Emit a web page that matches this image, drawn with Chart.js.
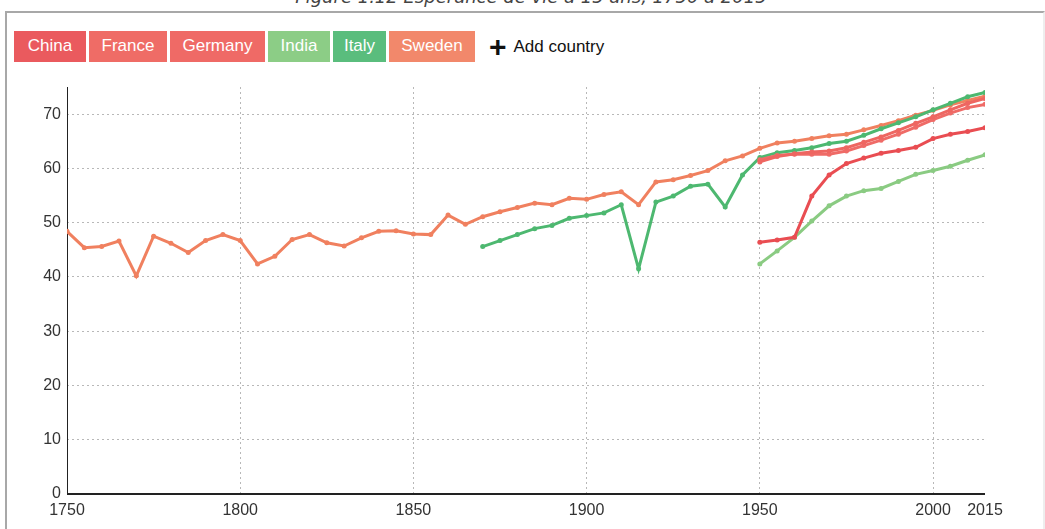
<!DOCTYPE html>
<html>
<head>
<meta charset="utf-8">
<script src="https://cdn.jsdelivr.net/npm/chart.js@4.4.0/dist/chart.umd.min.js"></script>
<style>
  body { margin: 0; background: #fff; font-family: "Liberation Sans", Arial, sans-serif; }
  #wrap { position: relative; width: 1045px; height: 529px; overflow: hidden; }
  #title { position: absolute; top: -12px; left: 0; width: 1062px; text-align: center; font: italic 18px "DejaVu Sans", sans-serif; color: #444; line-height: 18px; }
  #frame { position: absolute; left: 5px; top: 11px; width: 1036px; height: 600px; border: 2px solid #a8a8a8; border-right-color: #eee; }
  #buttons { position: absolute; left: 14px; top: 31px; display: flex; align-items: center; }
  .btn { color: #fff; font-size: 17px; height: 31px; line-height: 30px; text-align: center; margin-right: 3px; box-sizing: border-box; }
  .add { margin-left: 11px; font-size: 17px; color: #111; display: flex; align-items: center; }
  .plus { font-weight: bold; font-size: 30px; margin-right: 7px; line-height: 16px; }
  canvas { position: absolute; left: 0; top: 0; }
</style>
</head>
<body>
<div id="wrap">
  <div id="title">Figure 1.12 Espérance de vie à 15 ans, 1750 à 2015</div>
  <div id="frame"></div>
  <div id="buttons"></div>
  <canvas id="chart" width="1045" height="529"></canvas>
</div>
<script>
// Espérance de vie à 15 ans (âge total atteint)
const countries = ['China', 'France', 'Germany', 'India', 'Italy', 'Sweden'];
const btnColors = ['#ea5a5e', '#ef6c66', '#ef6a66', '#8ccd86', '#5abd7d', '#f2886b'];
const btnWidths = [72, 78, 95, 62, 53, 86];
const lineColors = ['#e94d52', '#ee6661', '#ef6b67', '#8acb82', '#4db870', '#f0805f'];

const yearsSweden = [1750, 1755, 1760, 1765, 1770, 1775, 1780, 1785, 1790, 1795,
  1800, 1805, 1810, 1815, 1820, 1825, 1830, 1835, 1840, 1845,
  1850, 1855, 1860, 1865, 1870, 1875, 1880, 1885, 1890, 1895,
  1900, 1905, 1910, 1915, 1920, 1925, 1930, 1935, 1940, 1945,
  1950, 1955, 1960, 1965, 1970, 1975, 1980, 1985, 1990, 1995,
  2000, 2005, 2010, 2015];
const yearsItaly = [1870, 1875, 1880, 1885, 1890, 1895, 1900, 1905, 1910, 1915,
  1920, 1925, 1930, 1935, 1940, 1945, 1950, 1955, 1960, 1965,
  1970, 1975, 1980, 1985, 1990, 1995, 2000, 2005, 2010, 2015];
const yearsModern = [1950, 1955, 1960, 1965, 1970, 1975, 1980, 1985, 1990, 1995,
  2000, 2005, 2010, 2015];

const sweden = [48.4, 45.4, 45.6, 46.6, 40.2, 47.5, 46.2, 44.5, 46.7, 47.8,
  46.7, 42.4, 43.8, 46.9, 47.8, 46.3, 45.7, 47.2, 48.4, 48.5,
  47.9, 47.8, 51.4, 49.7, 51.1, 52.0, 52.8, 53.6, 53.3, 54.5,
  54.3, 55.2, 55.7, 53.3, 57.5, 57.9, 58.7, 59.6, 61.4, 62.3,
  63.7, 64.7, 65.0, 65.5, 66.0, 66.3, 67.1, 67.9, 68.8, 69.8,
  70.7, 71.7, 72.5, 73.3];
const italy = [45.6, 46.7, 47.8, 48.9, 49.5, 50.8, 51.3, 51.8, 53.3, 41.5,
  53.8, 54.9, 56.7, 57.1, 52.9, 58.8, 62.0, 62.9, 63.3, 63.8,
  64.6, 65.0, 66.1, 67.3, 68.4, 69.5, 70.8, 72.0, 73.2, 74.0];
const china = [46.4, 46.8, 47.3, 54.9, 58.8, 60.9, 61.9, 62.8, 63.3, 63.9,
  65.5, 66.3, 66.8, 67.5];
const france = [61.2, 62.2, 62.7, 63.0, 63.2, 63.8, 64.8, 65.8, 67.0, 68.3,
  69.5, 70.8, 72.0, 72.9];
const germany = [61.6, 62.4, 62.6, 62.6, 62.6, 63.2, 64.2, 65.2, 66.3, 67.6,
  69.0, 70.2, 71.2, 71.8];
const india = [42.4, 44.8, 47.3, 50.3, 53.1, 54.9, 55.9, 56.3, 57.6, 58.9,
  59.6, 60.4, 61.5, 62.5];

const xTicks = [1750, 1800, 1850, 1900, 1950, 2000, 2015];
const yTicks = [0, 10, 20, 30, 40, 50, 60, 70];

// buttons
const bar = document.getElementById('buttons');
countries.forEach((c, i) => {
  const b = document.createElement('div');
  b.className = 'btn';
  b.style.background = btnColors[i];
  b.style.width = btnWidths[i] + 'px';
  b.textContent = c;
  bar.appendChild(b);
});
const add = document.createElement('div');
add.className = 'add';
add.innerHTML = '<span class="plus">+</span>Add country';
bar.appendChild(add);

function pts(years, vals) {
  return years.map((y, i) => ({ x: y, y: vals[i] }));
}
const series = [
  pts(yearsModern, china),
  pts(yearsModern, france),
  pts(yearsModern, germany),
  pts(yearsModern, india),
  pts(yearsItaly, italy),
  pts(yearsSweden, sweden)
];

// solid axis lines on top of the dotted grid
const axisLines = {
  id: 'axisLines',
  beforeDatasetsDraw(chart) {
    const { ctx, chartArea: a } = chart;
    ctx.save();
    ctx.strokeStyle = '#222';
    ctx.lineWidth = 1;
    ctx.beginPath();
    ctx.moveTo(a.left + 0.5, a.top);
    ctx.lineTo(a.left + 0.5, a.bottom);
    ctx.stroke();
    ctx.lineWidth = 2;
    ctx.beginPath();
    ctx.moveTo(a.left, a.bottom);
    ctx.lineTo(a.right, a.bottom);
    ctx.stroke();
    ctx.restore();
  }
};

const ctx = document.getElementById('chart').getContext('2d');
new Chart(ctx, {
  type: 'line',
  data: {
    datasets: countries.map((c, i) => ({
      label: c,
      data: series[i],
      borderColor: lineColors[i],
      backgroundColor: lineColors[i],
      borderWidth: 3,
      pointRadius: 2.5,
      pointBorderWidth: 0,
      tension: 0,
      fill: false
    }))
  },
  options: {
    responsive: false,
    animation: false,
    layout: { padding: { top: 87, right: 60, bottom: 0, left: 0 } },
    plugins: { legend: { display: false }, tooltip: { enabled: false } },
    scales: {
      x: {
        type: 'linear',
        min: 1750,
        max: 2015,
        afterBuildTicks: (s) => { s.ticks = xTicks.map(v => ({ value: v })); },
        afterFit: (s) => { s.height = 35; },
        border: { display: false, dash: [2, 3] },
        grid: {
          drawTicks: false,
          color: (c) => (c.tick && (c.tick.value === 1750 || c.tick.value === 2015)) ? 'rgba(0,0,0,0)' : '#b8b8b8'
        },
        ticks: {
          padding: 7, color: '#333', font: { family: 'Liberation Sans', size: 16 },
          maxRotation: 0, autoSkip: false,
          callback: (v) => String(v)
        }
      },
      y: {
        min: 0,
        max: 75,
        afterBuildTicks: (s) => { s.ticks = yTicks.map(v => ({ value: v })); },
        afterFit: (s) => { s.width = 67; },
        border: { display: false, dash: [2, 3] },
        grid: {
          drawTicks: false,
          color: (c) => (c.tick && c.tick.value === 0) ? 'rgba(0,0,0,0)' : '#b8b8b8'
        },
        ticks: { padding: 6, color: '#333', font: { family: 'Liberation Sans', size: 16 } }
      }
    }
  },
  plugins: [axisLines]
});
</script>
</body>
</html>
